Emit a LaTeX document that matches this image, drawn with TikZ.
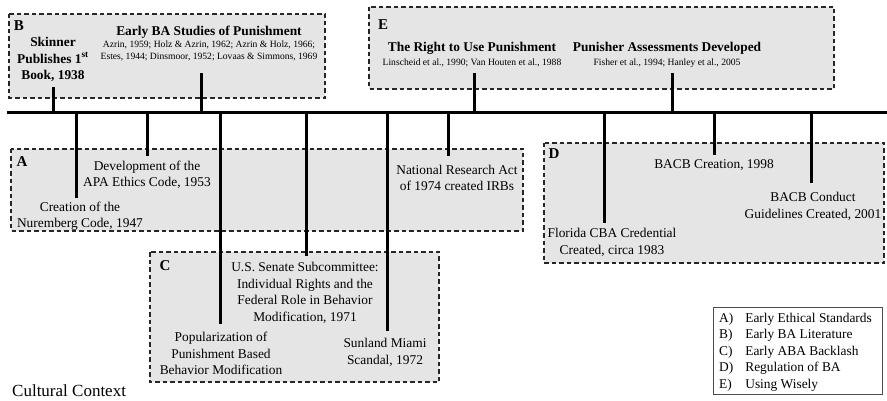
\documentclass[tikz,border=0pt]{standalone}
\usepackage{fontspec}
\setmainfont{Liberation Serif}
\begin{document}
\begin{tikzpicture}[x=1pt,y=-1pt,
  grp/.style={draw=black!85, dash pattern=on 4.5pt off 3pt, line width=1.1pt, fill=black!10},
  tickline/.style={line width=3pt},
  lbl/.style={font=\fontsize{13.4}{16.5}\selectfont, align=center, inner sep=0pt},
  ttl/.style={font=\fontsize{13.4}{16.5}\selectfont\bfseries, align=center, inner sep=0pt},
  cite/.style={font=\fontsize{9.6}{11.7}\selectfont, align=center, inner sep=0pt},
  grpname/.style={font=\fontsize{15}{15}\selectfont\bfseries, inner sep=0pt}]
\useasboundingbox (0,0) rectangle (887,401);

% group boxes
\draw[grp] (9,14) rectangle (325,98);
\draw[grp] (369,7) rectangle (834,89);
\draw[grp] (11,149) rectangle (523,231);
\draw[grp] (150,252) rectangle (439,382);
\draw[grp] (544,143) rectangle (884,263);

% group names
\node[grpname] (gB) at (19,26) {B};
\node[grpname] (gE) at (383,25) {E};
\node[grpname] (gA) at (22,162) {A};
\node[grpname] (gC) at (165,266) {C};
\node[grpname] (gD) at (554,154) {D};

% timeline
\coordinate (tl0) at (7,113);
\coordinate (tl1) at (887,113);
\draw[line width=3pt] (tl0) -- (tl1);

% ticks above
\foreach \n/\x/\y in {skin/53/87, eba/201/73, right/474/73, pun/672/73}{
  \coordinate (\n top) at (\x,\y);
  \coordinate (\n base) at (\x,113);
  \draw[tickline] (\n base) -- (\n top);
}
% ticks below
\foreach \n/\x/\y in {nur/76/198, apa/147/156, pop/220/324, sen/306/256, sun/387/331, nra/448/156, fla/604/223, bcr/714/155, bco/811/183}{
  \coordinate (\n bot) at (\x,\y);
  \coordinate (\n base) at (\x,113);
  \draw[tickline] (\n base) -- (\n bot);
}

% texts above
\node[ttl] (skinner) at (53,59.5) {Skinner\\Publishes 1\textsuperscript{st}\\Book, 1938};
\node[ttl] (ebaT) at (209,32) {Early BA Studies of Punishment};
\node[cite] (ebaC) at (209,51) {Azrin, 1959; Holz \& Azrin, 1962; Azrin \& Holz, 1966;\\Estes, 1944; Dinsmoor, 1952; Lovaas \& Simmons, 1969};
\node[ttl] (rightT) at (472,48) {The Right to Use Punishment};
\node[cite] (rightC) at (472,63) {Linscheid et al., 1990; Van Houten et al., 1988};
\node[ttl] (punT) at (667,48) {Punisher Assessments Developed};
\node[cite] (punC) at (667,63) {Fisher et al., 1994; Hanley et al., 2005};

% texts below
\node[lbl] (nur) at (80,216) {Creation of the\\Nuremberg Code, 1947};
\node[lbl] (apa) at (147,175) {Development of the\\APA Ethics Code, 1953};
\node[lbl] (pop) at (221,353.5) {Popularization of\\Punishment Based\\Behavior Modification};
\node[lbl] (sen) at (305,293) {U.S. Senate Subcommittee:\\Individual Rights and the\\Federal Role in Behavior\\Modification, 1971};
\node[lbl] (sun) at (385,352.5) {Sunland Miami\\Scandal, 1972};
\node[lbl] (nra) at (457,178) {National Research Act\\of 1974 created IRBs};
\node[lbl] (fla) at (612,242.5) {Florida CBA Credential\\Created, circa 1983};
\node[lbl] (bcr) at (714,165.5) {BACB Creation, 1998};
\node[lbl] (bco) at (813,206.5) {BACB Conduct\\Guidelines Created, 2001};

% legend
\draw[draw=black!70, line width=0.8pt, fill=white] (713,307) rectangle (882,394);
\node[anchor=west, inner sep=0pt, font=\fontsize{13.4}{16.5}\selectfont] (legend) at (719,352)
  {\begin{tabular}{@{}l@{\hspace{12pt}}l@{}}
   A) & Early Ethical Standards\\
   B) & Early BA Literature\\
   C) & Early ABA Backlash\\
   D) & Regulation of BA\\
   E) & Using Wisely
   \end{tabular}};

\node[anchor=west, inner sep=0pt, font=\fontsize{17}{19}\selectfont] (cc) at (12,391) {Cultural Context};
\end{tikzpicture}
\end{document}
